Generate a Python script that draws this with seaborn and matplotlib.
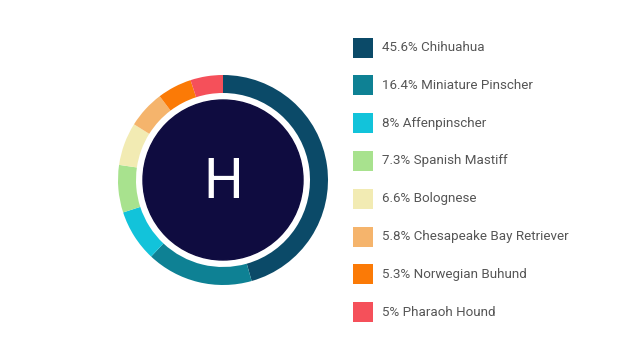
import matplotlib
matplotlib.use("Agg")
import matplotlib.pyplot as plt
from matplotlib.patches import Rectangle, Circle
import seaborn as sns

categories = ["Chihuahua", "Miniature Pinscher", "Affenpinscher", "Spanish Mastiff",
              "Bolognese", "Chesapeake Bay Retriever", "Norwegian Buhund", "Pharaoh Hound"]
values = [45.6, 16.4, 8, 7.3, 6.6, 5.8, 5.3, 5]
colors = ["#0b4a68", "#0e8194", "#12c3da", "#a8e28e", "#f2ebb3", "#f5b46c", "#fb7a06", "#f5505a"]
center_label = "H"

sns.set_theme(style="white")
plt.rcParams["font.family"] = ["Roboto", "DejaVu Sans"]

W, H = 624, 353
fig = plt.figure(figsize=(W / 100, H / 100), dpi=100)
fig.patch.set_facecolor("white")

# donut
cx, cy, R = 223, 180, 105
ax = fig.add_axes([(cx - R) / W, (H - cy - R) / H, 2 * R / W, 2 * R / H])
ax.pie(values, colors=colors, startangle=90, counterclock=False, radius=1,
       wedgeprops=dict(width=18 / R, linewidth=0))
ax.add_patch(Circle((0, 0), 80 / R, color="#0f0c40", zorder=3))
ax.text(0, -0.02, center_label, ha="center", va="center", color="white",
        fontsize=40, fontweight="normal", zorder=4)
ax.set_xlim(-1, 1)
ax.set_ylim(-1, 1)
ax.set_aspect("equal")
ax.axis("off")

# legend
lax = fig.add_axes([0, 0, 1, 1])
lax.set_xlim(0, W)
lax.set_ylim(H, 0)
lax.axis("off")
y0, dy = 47.5, 37.8
for i, (c, v, col) in enumerate(zip(categories, values, colors)):
    y = y0 + i * dy
    lax.add_patch(Rectangle((353, y - 10), 20, 20, facecolor=col, edgecolor="none"))
    lax.text(382, y, f"{v:g}% {c}", ha="left", va="center", fontsize=9.6, color="#555555")

fig.savefig("out.png", dpi=100, facecolor="white")
